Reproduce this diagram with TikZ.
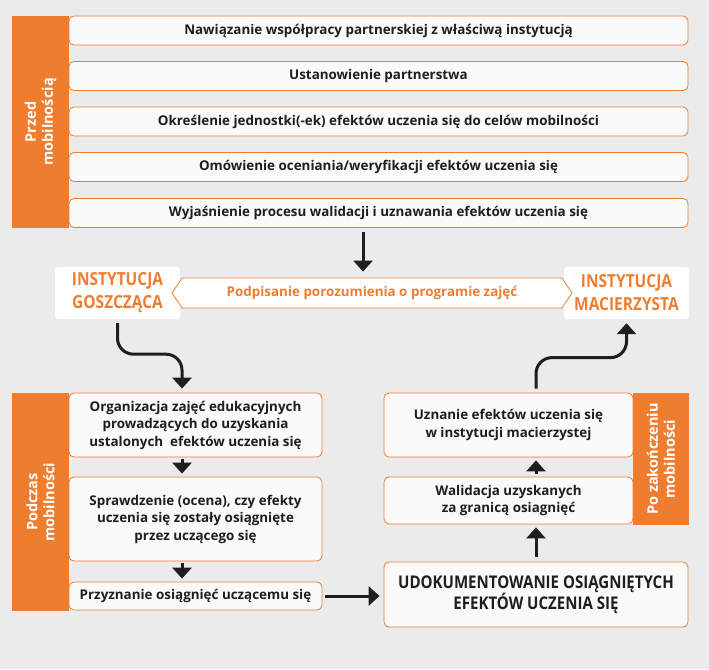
\documentclass[tikz,border=0pt]{standalone}
\usepackage{fontspec}
\setmainfont{Open Sans}
\newfontfamily\condfont[FakeStretch=0.86]{Open Sans}
\usetikzlibrary{shapes.symbols,arrows.meta}
\definecolor{orng}{RGB}{239,125,48}
\definecolor{bg}{RGB}{235,235,235}
\definecolor{ink}{RGB}{30,30,30}

\begin{document}
\begin{tikzpicture}[x=1pt,y=-1pt,
    box/.style={draw=orng,line width=0.8pt,fill=white!98!black,rounded corners=5pt,text=ink,
        font=\bfseries\fontsize{13.4}{17.5}\selectfont,align=center,inner sep=0pt},
    side/.style={fill=orng,text=white,rotate=90,font=\bfseries\fontsize{14.5}{17}\selectfont,
        align=center,inner sep=0pt},
    inst/.style={fill=white,rounded corners=3pt,text=orng,align=center,
        font=\condfont\bfseries\fontsize{18}{23}\selectfont,minimum width=125pt,minimum height=52pt},
    arr/.style={-{Triangle[length=11pt,width=19pt]},line width=3pt,draw=ink}
]
    % background
    \fill[bg] (0,0) rectangle (709,669);
    \useasboundingbox (0,0) rectangle (709,669);
    % before mobility
    \foreach \n/\y/\txt in {1/30.5/{Nawiązanie współpracy partnerskiej z właściwą instytucją},
        2/76/{Ustanowienie partnerstwa},
        3/121.5/{Określenie jednostki(-ek) efektów uczenia się do celów mobilności},
        4/167/{Omówienie oceniania/weryfikacji efektów uczenia się},
        5/213/{Wyjaśnienie procesu walidacji i uznawania efektów uczenia się}} {
        \node[box,minimum width=619pt,minimum height=29pt] (bar\n) at (378.5,\y) {\txt};
    }
    \node[side,minimum width=212pt,minimum height=57pt] (przed) at (40.5,122) {Przed\\mobilnością};
    % institutions
    \node[inst] (gosc) at (117.5,293) {INSTYTUCJA\\GOSZCZĄCA};
    \node[inst] (macierz) at (626.5,293) {INSTYTUCJA\\MACIERZYSTA};
    \node[signal,signal to=west and east,signal pointer angle=112,draw=orng,line width=0.8pt,
        fill=white,text=orng,font=\bfseries\fontsize{13.4}{15}\selectfont,
        minimum width=400pt,minimum height=30pt,inner sep=0pt] (umowa) at (372,293)
        {Podpisanie porozumienia o programie zajęć};
    % during mobility
    \node[box,minimum width=253pt,minimum height=64pt] (org) at (195.5,425)
        {Organizacja zajęć edukacyjnych\\prowadzących do uzyskania\\ustalonych\ \ efektów uczenia się};
    \node[box,minimum width=253pt,minimum height=84pt] (spr) at (195.5,519)
        {Sprawdzenie (ocena), czy efekty\\uczenia się zostały osiągnięte\\przez uczącego się};
    \node[box,minimum width=253pt,minimum height=28pt] (przyz) at (195.5,596)
        {Przyznanie osiągnięć uczącemu się};
    \node[side,minimum width=218pt,minimum height=57pt] (podczas) at (40.5,502) {Podczas\\mobilności};
    % after mobility
    \node[box,minimum width=249pt,minimum height=64pt] (uzn) at (508.5,425)
        {Uznanie efektów uczenia się\\w instytucji macierzystej};
    \node[box,minimum width=249pt,minimum height=47pt] (walid) at (508.5,500.5)
        {Walidacja uzyskanych\\za granicą osiagnięć};
    \node[side,minimum width=132pt,minimum height=56pt] (po) at (661,459) {Po zakończeniu\\mobilności};
    \node[box,minimum width=304pt,minimum height=65pt,font=\condfont\bfseries\fontsize{17.5}{19}\selectfont]
        (udok) at (536,594.5) {UDOKUMENTOWANIE OSIĄGNIĘTYCH\\EFEKTÓW UCZENIA SIĘ};
    % arrows
    \draw[arr] ([xshift=-15.5pt,yshift=-4pt]bar5.south) -- ([xshift=-9pt,yshift=6pt]umowa.north);
    \draw[arr,rounded corners=16pt] ([yshift=-4pt]gosc.south) -- ++(0,31) -| ([xshift=-13.5pt,yshift=4pt]org.north);
    \draw[arr] ([xshift=-13.5pt,yshift=-2pt]org.south) -- ([xshift=-13.5pt,yshift=3pt]spr.north);
    \draw[arr] ([xshift=-13.5pt,yshift=-2pt]spr.south) -- ([xshift=-13.5pt,yshift=3pt]przyz.north);
    \draw[arr] ([xshift=3pt]przyz.east) -- ([xshift=-4pt]przyz.east -| udok.west);
    \draw[arr] ([yshift=5pt]udok.north) -- ([yshift=-3pt]walid.south -| udok.north);
    \draw[arr] ([xshift=27.5pt,yshift=3pt]walid.north) -- ([xshift=27.5pt,yshift=-3pt]uzn.south);
    \draw[arr,rounded corners=16pt] ([xshift=27.5pt,yshift=4pt]uzn.north) -- ++(0,-31) -| ([yshift=-4pt]macierz.south);
\end{tikzpicture}
\end{document}
